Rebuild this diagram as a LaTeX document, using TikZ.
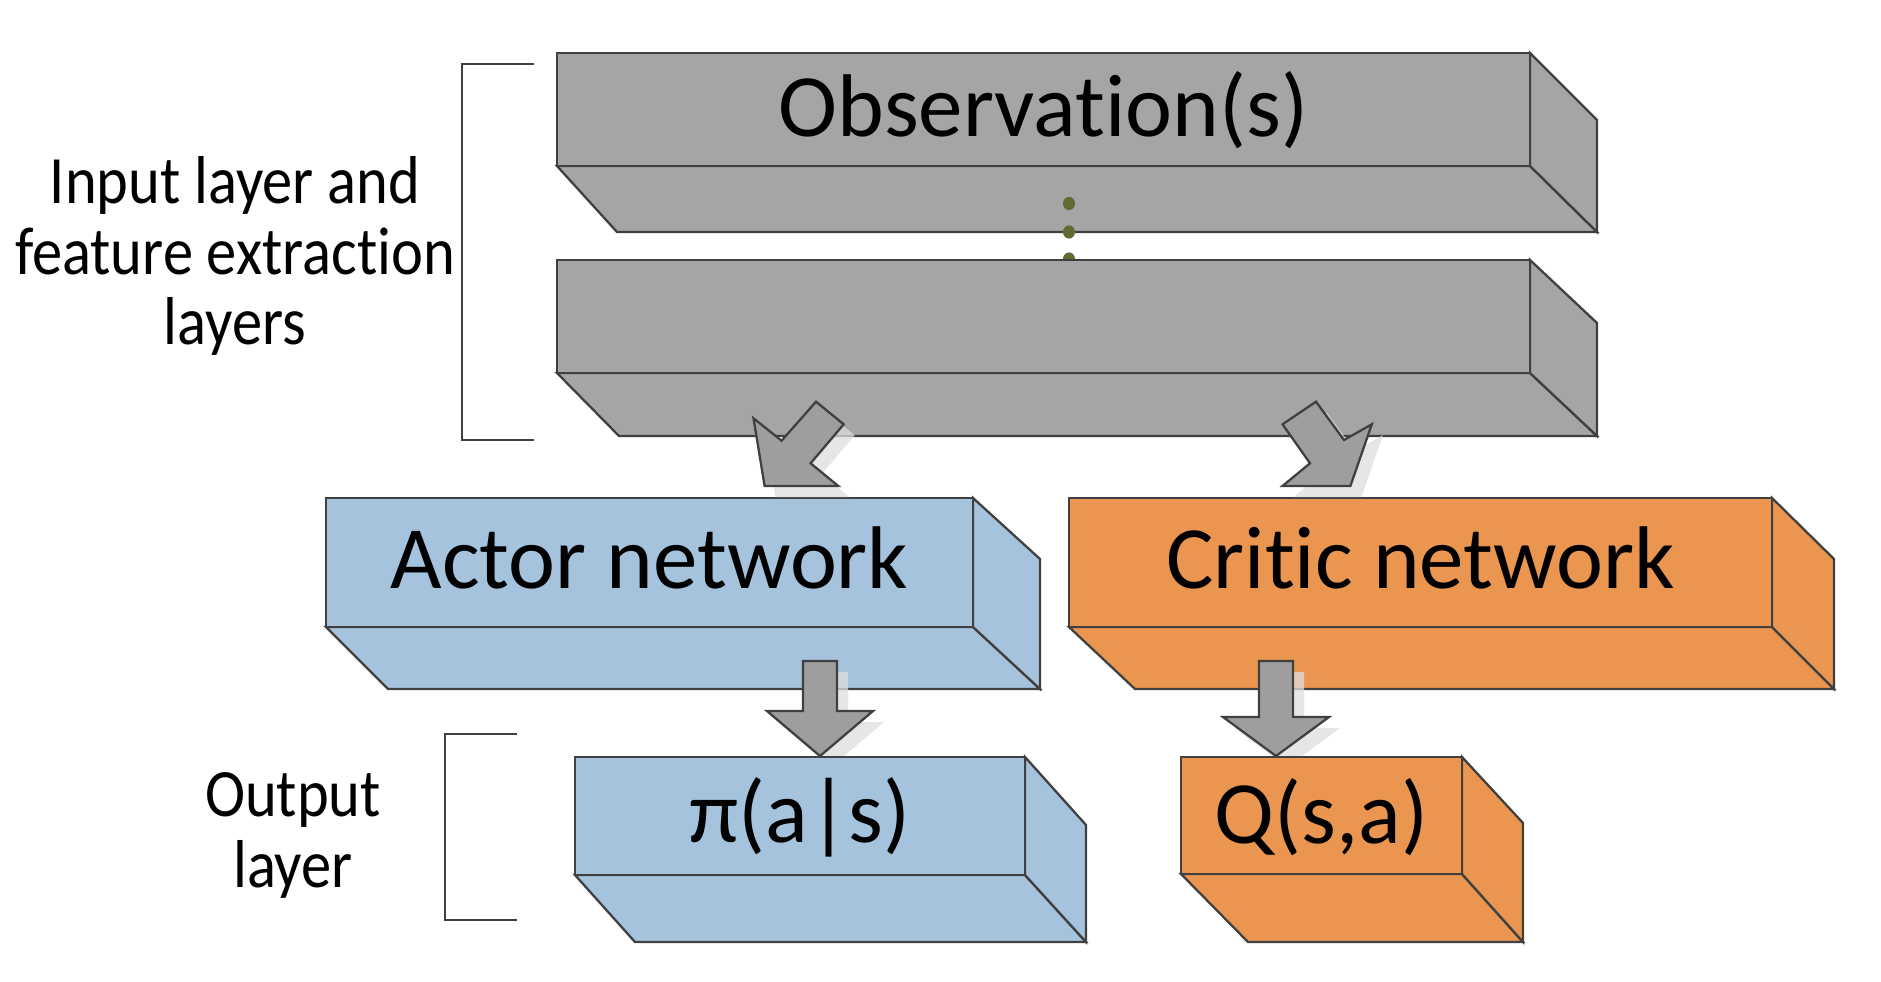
\documentclass[tikz,border=0pt]{standalone}
\usepackage{fontspec}
\setmainfont{Carlito}[RawFeature={-liga;-clig;-calt;-dlig}]
\usepackage{graphicx}
\definecolor{boxgray}{RGB}{165,165,165}
\definecolor{actorblue}{RGB}{166,195,222}
\definecolor{criticorange}{RGB}{234,150,80}
\definecolor{edgegray}{RGB}{64,64,64}
\definecolor{arrowgray}{RGB}{158,158,158}
\definecolor{shadowgray}{RGB}{222,222,222}
\definecolor{dotgreen}{RGB}{95,107,50}
\tikzset{
  face/.style={draw=edgegray, line width=0.65pt, line join=miter},
  bigtxt/.style={font=\fontsize{25.3}{30}\selectfont, inner sep=0pt, anchor=base},
  lbltxt/.style={font=\fontsize{17.2}{17.8}\selectfont, inner sep=0pt, anchor=center},
  blockarrow/.style={draw=edgegray, fill=arrowgray, line width=0.65pt, line join=miter},
  arrowshadow/.style={fill=shadowgray, fill opacity=0.75},
  bracket/.style={draw=edgegray, line width=0.6pt},
  olivedot/.style={fill=dotgreen},
  leftarr/.pic={\path[pic actions] (753.5,418.3) -- (781.6,440.7) -- (816,401.7) -- (843.7,424.3) -- (810.6,463.3) -- (838.3,486) -- (764.6,486) -- cycle;},
  rightarr/.pic={\path[pic actions] (1282.5,424.3) -- (1316,401.7) -- (1344,440) -- (1371.8,424.3) -- (1350.4,486) -- (1282.5,486) -- (1310,463.3) -- cycle;},
  downarrA/.pic={\path[pic actions] (803,661) -- (837,661) -- (837,711) -- (873,711) -- (820,756) -- (767,711) -- (803,711) -- cycle;},
  downarrB/.pic={\path[pic actions] (1259,661) -- (1293,661) -- (1293,717) -- (1329,717) -- (1276,756) -- (1223,717) -- (1259,717) -- cycle;}
}
% #1 colour, front (#2,#3)-(#4,#5), side x #6, diagonal end y #7, back bottom y #8, back-left x #9
\newcommand\cuboid[9]{%
  \filldraw[face, fill=#1] (#2,#5) -- (#4,#5) -- (#6,#8) -- (#9,#8) -- cycle;
  \filldraw[face, fill=#1] (#4,#3) -- (#6,#7) -- (#6,#8) -- (#4,#5) -- cycle;
  \filldraw[face, fill=#1] (#2,#3) rectangle (#4,#5);
}
\begin{document}
\begin{tikzpicture}[x=0.01cm, y=-0.01cm]
\useasboundingbox[fill=white] (0,0) rectangle (1881,982);

% feature layers
\cuboid{boxgray}{557}{53}{1530}{166}{1597}{120}{232}{617}
\node[bigtxt] (obs) at (1043.5,137) {Observation(s)};
\fill[olivedot] (1069,203.5) ellipse [x radius=0.06cm, y radius=0.066cm];
\fill[olivedot] (1069,232) ellipse [x radius=0.06cm, y radius=0.066cm];
\fill[olivedot] (1069,259) ellipse [x radius=0.06cm, y radius=0.066cm];
\cuboid{boxgray}{557}{260}{1530}{373}{1597}{323}{436}{619}
\coordinate (feat) at (1043.5,316);

% actor / critic
\cuboid{actorblue}{326}{498}{973}{627}{1040}{559}{689}{388}
\node[bigtxt] (actor) at (649.5,588) {Actor network};
\cuboid{criticorange}{1069}{498}{1772}{627}{1834}{559}{689}{1135}
\node[bigtxt] (critic) at (1420.5,588) {Critic network};

% block arrows
\pic[arrowshadow] at (11,11) {leftarr};
\pic[blockarrow] {leftarr};
\pic[arrowshadow] at (11,11) {rightarr};
\pic[blockarrow] {rightarr};
\pic[arrowshadow] at (11,11) {downarrA};
\pic[blockarrow] {downarrA};
\pic[arrowshadow] at (11,11) {downarrB};
\pic[blockarrow] {downarrB};

% outputs
\cuboid{actorblue}{575}{757}{1025}{875}{1086}{825}{942}{635}
\node[bigtxt] (pi) at (800,842) {π(a|s)};
\cuboid{criticorange}{1181}{757}{1462}{874}{1523}{823}{942}{1248}
\node[bigtxt] (q) at (1321.5,843) {Q(s,a)};

% brackets
\draw[bracket] (534,64) -- (462,64) -- (462,440) -- (534,440);
\draw[bracket] (517,734) -- (445,734) -- (445,920) -- (517,920);

% labels
\node[lbltxt] (inlbl) at (235,260) {\scalebox{1}[1.12]{\begin{tabular}{@{}c@{}}Input layer and\\feature extraction\\layers\end{tabular}}};
\node[lbltxt] (outlbl) at (293,838) {\scalebox{1}[1.12]{\begin{tabular}{@{}c@{}}Output\\layer\end{tabular}}};
\end{tikzpicture}
\end{document}
